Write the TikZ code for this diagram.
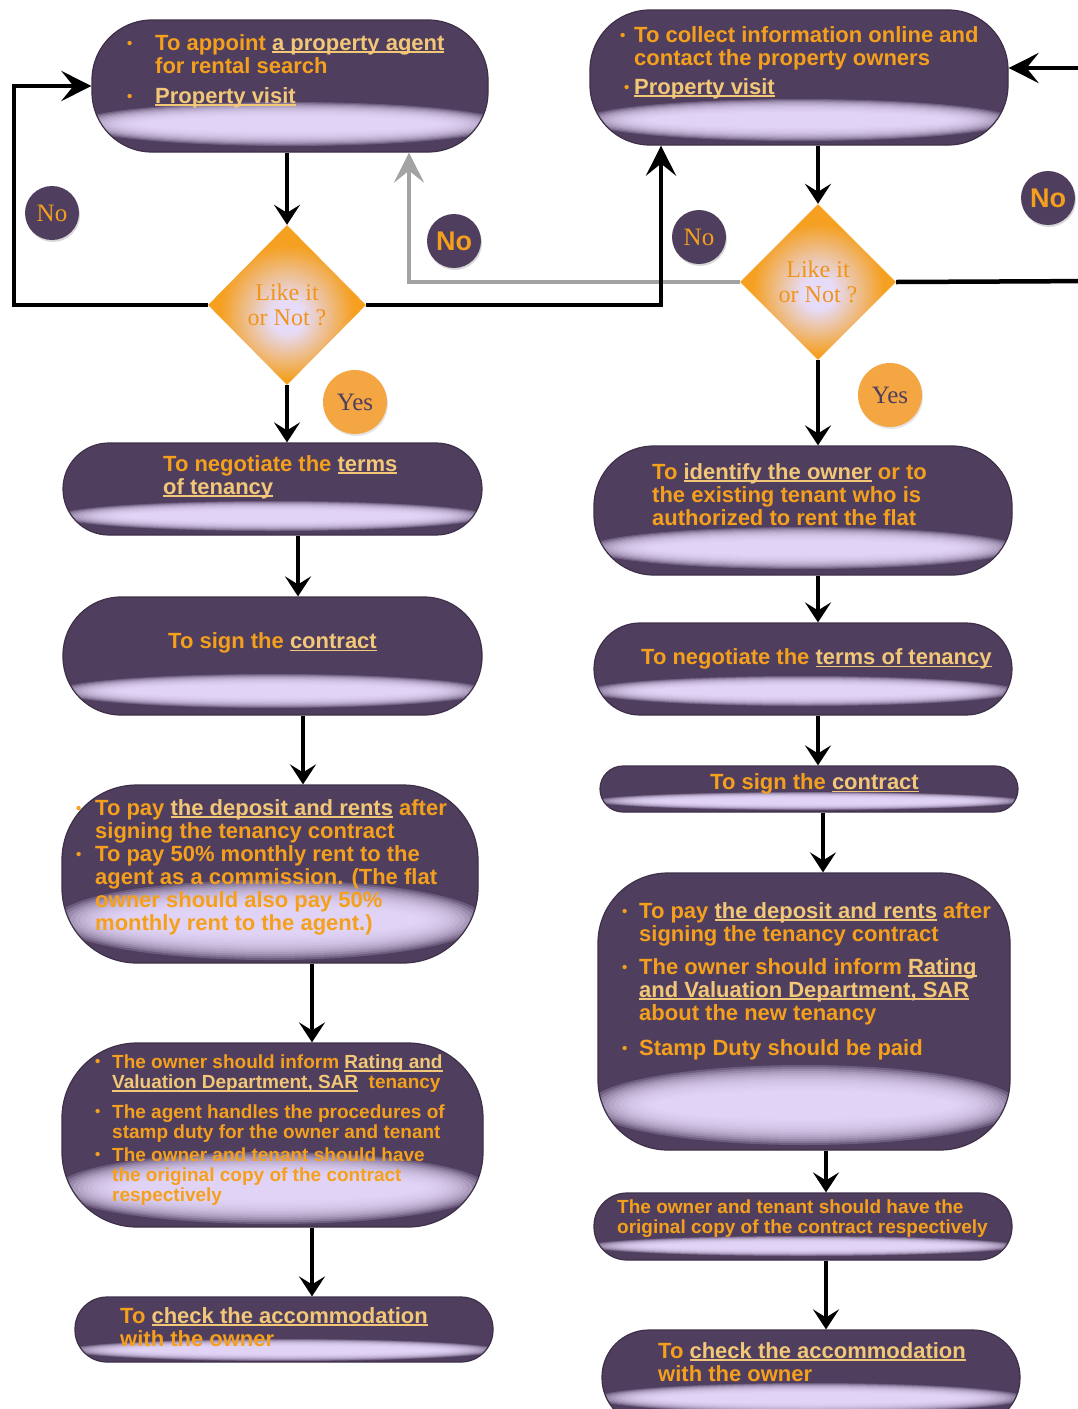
\documentclass[tikz,border=0pt]{standalone}
\usepackage{fontspec}
\setmainfont{Liberation Serif}
\setsansfont{Liberation Sans}
\usetikzlibrary{shapes.geometric,arrows.meta,shadows,calc}
\definecolor{boxc}{HTML}{4F3E5E}
\definecolor{boxd}{HTML}{3E3049}
\definecolor{glowc}{HTML}{EADCFF}
\definecolor{txtc}{HTML}{F5A01C}
\definecolor{ulc}{HTML}{F2C878}
\definecolor{dorange}{HTML}{F5A021}
\definecolor{diac}{HTML}{E6DCFA}
\definecolor{txtd}{HTML}{F0951A}
\definecolor{yesc}{HTML}{F3A642}
\definecolor{grayc}{HTML}{A3A3A3}
\pgfdeclareradialshading{dglow}{\pgfpoint{0bp}{-4bp}}{color(0bp)=(diac); color(5bp)=(diac); color(21bp)=(dorange); color(50bp)=(dorange)}
\newcommand\bli[1]{\makebox[#1][l]{\raisebox{2pt}{\fontsize{15}{15}\selectfont\textbullet}}}
\newcommand\indt[1]{\makebox[#1]{}}
\newcommand\uln[1]{{\color{ulc}\setbox0\hbox{#1}\rlap{\rule[-2.6pt]{\wd0}{1.3pt}}\box0}}
\begin{document}
\begin{tikzpicture}[x=1pt,y=-1pt,
  pill/.style n args={3}{rectangle, rounded corners=#1, fill=boxc, draw=boxd, line width=1.2pt, inner sep=0pt,
    path picture={\foreach \k in {0,...,13} {\fill[glowc, fill opacity=0.2] ([yshift=#2]path picture bounding box.south) ellipse [x radius={215-5*\k}, y radius={#3*(1-0.05*\k)}];}}},
  txt/.style={text=txtc, font=\sffamily\bfseries\fontsize{22}{23}\selectfont, align=left, inner sep=0pt, anchor=north west},
  txts/.style={txt, font=\sffamily\bfseries\fontsize{19}{20}\selectfont},
  dia/.style={diamond, inner sep=0pt, shade, shading=dglow, text=txtd, font=\fontsize{24}{25}\selectfont, align=center},
  nocirc/.style={circle, fill=boxc, minimum size=54pt, inner sep=0pt, text=txtc, font=\fontsize{25}{25}\selectfont, drop shadow={opacity=0.3, shadow xshift=1pt, shadow yshift=-2pt}},
  noboldcirc/.style={nocirc, font=\sffamily\bfseries\fontsize{27}{27}\selectfont},
  yescirc/.style={circle, fill=yesc, minimum size=64pt, inner sep=0pt, text=boxc, font=\fontsize{25}{25}\selectfont, drop shadow={opacity=0.2, shadow xshift=1pt, shadow yshift=-2pt}},
  arr/.style={line width=3.5pt, -{Stealth[length=20pt,width=26pt,inset=8pt]}},
  looparr/.style={line width=4.5pt, -{Stealth[length=30pt,width=30pt,inset=12pt]}},
  grayarr/.style={looparr, draw=grayc},
  darkline/.style={line width=4.5pt}
]
\useasboundingbox (0,0) rectangle (1078,1409);
\fill[white] (0,0) rectangle (1078,1409);
\clip (0,0) rectangle (1078,1409);

% boxes
\node[pill={60pt}{28pt}{22}, minimum width=396pt, minimum height=132pt] (L1) at (290,86) {};
\node[pill={60pt}{25pt}{21}, minimum width=418pt, minimum height=135pt] (R1) at (799,77.5) {};
\node[dia, minimum width=158pt, minimum height=160pt] (D1) at (287,305) {Like it\\or Not ?};
\node[dia, minimum width=156pt, minimum height=156pt] (D2) at (818,282) {Like it\\or Not ?};
\node[pill={46pt}{19pt}{15}, minimum width=419pt, minimum height=92pt] (L2) at (272.5,489) {};
\node[pill={58pt}{24pt}{17}, minimum width=419pt, minimum height=118pt] (L3) at (272.5,656) {};
\node[pill={75pt}{43pt}{40}, minimum width=416pt, minimum height=178pt] (L4) at (270,874) {};
\node[pill={75pt}{39pt}{36}, minimum width=421pt, minimum height=184pt] (L5) at (272.5,1135) {};
\node[pill={32pt}{12pt}{11}, minimum width=418pt, minimum height=65pt] (L6) at (284,1329.5) {};
\node[pill={60pt}{27pt}{21}, minimum width=418pt, minimum height=129pt] (R2) at (803,510.5) {};
\node[pill={46pt}{24pt}{15}, minimum width=418pt, minimum height=92pt] (R3) at (803,669) {};
\node[pill={23pt}{11pt}{9}, minimum width=418pt, minimum height=46pt] (R4) at (809,789) {};
\node[pill={70pt}{45pt}{40}, minimum width=412pt, minimum height=277pt] (R5) at (804,1011.5) {};
\node[pill={33pt}{14pt}{10}, minimum width=418pt, minimum height=67pt] (R6) at (803,1226.5) {};
\node[pill={47pt}{27pt}{15}, minimum width=418pt, minimum height=95pt] (R7) at (811,1377.5) {};

% texts
\node[txt] (L1t) at (127,34) {\bli{28pt}To appoint \uln{a property agent}\\\indt{28pt}for rental search\\[7pt]\bli{28pt}\uln{Property visit}};
\node[txt] (R1t) at (620,26) {\bli{14pt}To collect information online and\\\indt{14pt}contact the property owners\\[6pt]\indt{4pt}\bli{10pt}\uln{Property visit}};
\node[txt] (L2t) at (163,455) {To negotiate the \uln{terms}\\\uln{of tenancy}};
\node[txt, anchor=west] (L3t) at (168,643) {To sign the \uln{contract}};
\node[txt] (L4t) at (76,799) {\bli{19pt}To pay \uln{the deposit and rents} after\\\indt{19pt}signing the tenancy contract\\\bli{19pt}To pay 50\% monthly rent to the\\\indt{19pt}agent as a commission. (The flat\\\indt{19pt}owner should also pay 50\%\\\indt{19pt}monthly rent to the agent.)};
\node[txts] (L5t) at (95,1055) {\bli{17pt}The owner should inform \uln{Rating and}\\\indt{17pt}\uln{Valuation Department, SAR}\ \ tenancy\\[10pt]\bli{17pt}The agent handles the procedures of\\\indt{17pt}stamp duty for the owner and tenant\\[3pt]\bli{17pt}The owner and tenant should have\\\indt{17pt}the original copy of the contract\\\indt{17pt}respectively};
\node[txt] (L6t) at (120,1307) {To \uln{check the accommodation}\\with the owner};
\node[txt] (R2t) at (652,463) {To \uln{identify the owner} or to\\the existing tenant who is\\authorized to rent the flat};
\node[txt, anchor=west] (R3t) at (641,659) {To negotiate the \uln{terms of tenancy}};
\node[txt, anchor=west] (R4t) at (710,784) {To sign the \uln{contract}};
\node[txt] (R5t) at (622,902) {\bli{17pt}To pay \uln{the deposit and rents} after\\\indt{17pt}signing the tenancy contract\\[10pt]\bli{17pt}The owner should inform \uln{Rating}\\\indt{17pt}\uln{and Valuation Department, SAR}\\\indt{17pt}about the new tenancy\\[12pt]\bli{17pt}Stamp Duty should be paid};
\node[txts] (R6t) at (617,1200) {The owner and tenant should have the\\original copy of the contract respectively};
\node[txt] (R7t) at (658,1342) {To \uln{check the accommodation}\\with the owner};

% labels
\node[nocirc] (no1) at (52,213) {No};
\node[noboldcirc] (no2) at (454,241) {No};
\node[nocirc] (no3) at (699,237) {No};
\node[noboldcirc] (no4) at (1048,198) {No};
\node[yescirc] (yes1) at (355,402) {Yes};
\node[yescirc] (yes2) at (890,395) {Yes};

% connectors
\coordinate (exitA) at (1100,281);
\coordinate (exitB) at (1100,68);
\draw[grayarr] (D2.west) -| (L1.south -| 409,0);
\draw[looparr] (D1.west) -- (D1.west -| 14,0) |- (L1.west);
\draw[looparr] (D1.east) -| (R1.south -| 661,0);
\draw[darkline] (D2.east) -- (exitA);
\draw[looparr] (exitB) -- (R1.east |- exitB);
\draw[arr] (D1.north |- L1.south) -- (D1.north);
\draw[arr] (D1.south) -- (D1.south |- L2.north);
\draw[arr] (L2.south -| 298,0) -- (L3.north -| 298,0);
\draw[arr] (L3.south -| 303,0) -- (L4.north -| 303,0);
\draw[arr] (L4.south -| 312,0) -- (L5.north -| 312,0);
\draw[arr] (L5.south -| 312,0) -- (L6.north -| 312,0);
\draw[arr] (D2.north |- R1.south) -- (D2.north);
\draw[arr] (D2.south) -- (D2.south |- R2.north);
\draw[arr] (R2.south -| 818,0) -- (R3.north -| 818,0);
\draw[arr] (R3.south -| 818,0) -- (R4.north -| 818,0);
\draw[arr] (R4.south -| 823,0) -- (R5.north -| 823,0);
\draw[arr] (R5.south -| 826,0) -- (R6.north -| 826,0);
\draw[arr] (R6.south -| 826,0) -- (R7.north -| 826,0);
\end{tikzpicture}
\end{document}
